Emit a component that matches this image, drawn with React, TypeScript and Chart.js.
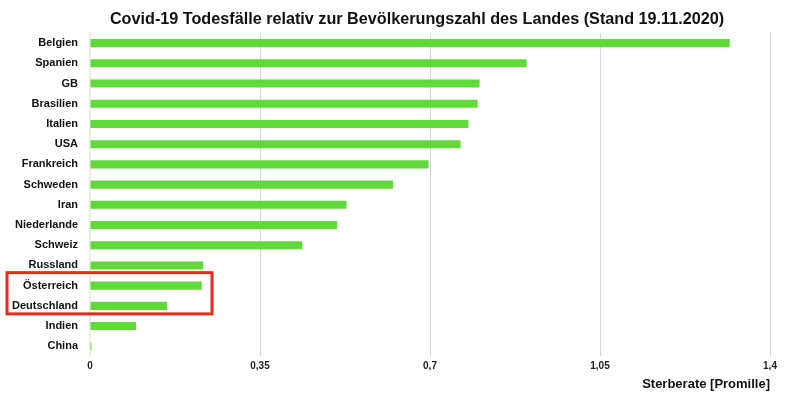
import React, { useEffect, useRef } from "react";
import { Chart, registerables } from "chart.js";

Chart.register(...registerables);

const countries = [
  "Belgien", "Spanien", "GB", "Brasilien", "Italien", "USA", "Frankreich", "Schweden",
  "Iran", "Niederlande", "Schweiz", "Russland", "Österreich", "Deutschland", "Indien", "China",
];
const deathRates = [
  1.317, 0.899, 0.802, 0.798, 0.779, 0.763, 0.697, 0.624,
  0.528, 0.509, 0.437, 0.233, 0.230, 0.159, 0.095, 0.003,
];
const xTicks = [0, 0.35, 0.7, 1.05, 1.4];
const xTickLabels = ["0", "0,35", "0,7", "1,05", "1,4"];
const highlighted = ["Österreich", "Deutschland"];
const titleText = "Covid-19 Todesfälle relativ zur Bevölkerungszahl des Landes (Stand 19.11.2020)";
const xAxisTitle = "Sterberate [Promille]";

const FONT = "'Liberation Sans', Arial, Helvetica, sans-serif";

const extrasPlugin = {
  id: "extras",
  afterDraw(chart: any) {
    const ctx = chart.ctx;
    const y = chart.scales.y;
    ctx.save();
    ctx.font = `bold 16.2px ${FONT}`;
    ctx.fillStyle = "#111";
    ctx.textAlign = "center";
    ctx.textBaseline = "middle";
    ctx.fillText(titleText, 417, 20);
    const i0 = countries.indexOf(highlighted[0]);
    const i1 = countries.indexOf(highlighted[1]);
    const top = y.getPixelForValue(i0) - 13;
    const bottom = y.getPixelForValue(i1) + 8;
    ctx.strokeStyle = "#e8291c";
    ctx.lineWidth = 3;
    ctx.strokeRect(7, top, 205, bottom - top);
    ctx.restore();
  },
};

export default function App() {
  const ref = useRef<HTMLCanvasElement>(null);
  useEffect(() => {
    document.body.style.margin = "0";
    const chart = new Chart(ref.current!, {
      type: "bar",
      data: {
        labels: countries,
        datasets: [
          {
            data: deathRates,
            backgroundColor: "#5fda38",
            borderWidth: 0,
            barPercentage: 0.4,
            categoryPercentage: 1,
          },
        ],
      },
      options: {
        indexAxis: "y",
        animation: false,
        responsive: false,
        maintainAspectRatio: false,
        layout: { padding: { top: 33, right: 30, left: 0, bottom: 11 } },
        plugins: { legend: { display: false }, title: { display: false }, tooltip: { enabled: false } },
        scales: {
          x: {
            type: "linear",
            min: 0,
            max: 1.4,
            afterBuildTicks: (axis: any) => {
              axis.ticks = xTicks.map((v) => ({ value: v }));
            },
            ticks: {
              callback: (v: any) => {
                const i = xTicks.findIndex((t) => Math.abs(t - v) < 1e-9);
                return i >= 0 ? xTickLabels[i] : "";
              },
              font: { family: FONT, size: 10, weight: "bold" },
              color: "#222",
              padding: 4,
              maxRotation: 0,
            },
            grid: { color: "#d6d6d6", lineWidth: 1, drawTicks: false },
            border: { display: false },
            title: {
              display: true,
              text: xAxisTitle,
              align: "end",
              font: { family: FONT, size: 13, weight: "bold" },
              color: "#111",
              padding: { top: 0, bottom: 0 },
            },
          },
          y: {
            ticks: {
              font: { family: FONT, size: 11, weight: "bold" },
              color: "#111",
              padding: 12,
            },
            grid: { display: false, drawTicks: false },
            border: { display: true, color: "#ecefdc", width: 2 },
            afterFit: (axis: any) => {
              axis.width = 90;
            },
          },
        },
      } as any,
      plugins: [extrasPlugin],
    });
    return () => chart.destroy();
  }, []);
  return (
    <div style={{ width: 800, height: 403 }}>
      <canvas ref={ref} width={800} height={403} style={{ display: "block" }} />
    </div>
  );
}
